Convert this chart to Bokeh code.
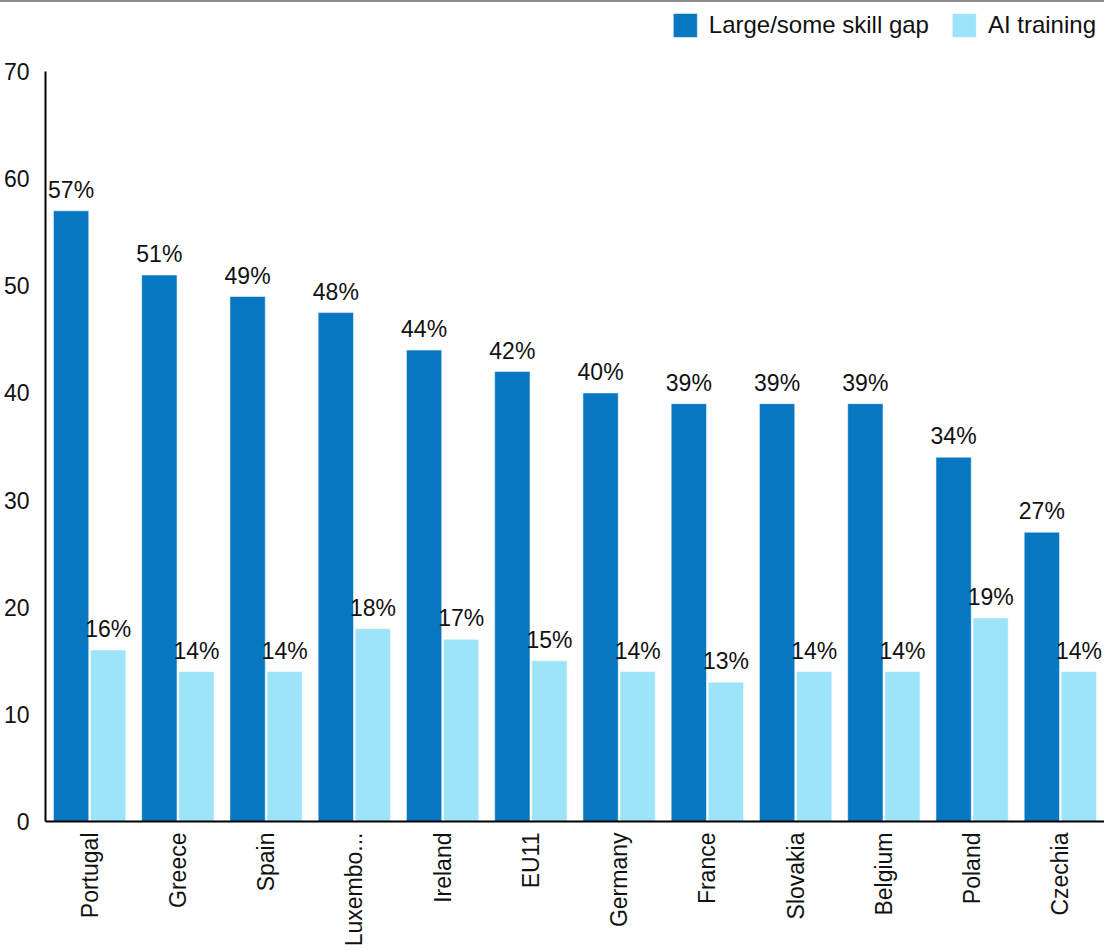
from bokeh.plotting import figure
from bokeh.models import FactorRange, Range1d, FixedTicker, ColumnDataSource, Div, Legend, LabelSet
from bokeh.transform import dodge
from bokeh.layouts import column
from bokeh.embed import file_html
from bokeh.resources import INLINE
from bokeh.core.properties import value
import math

countries = ["Portugal", "Greece", "Spain", "Luxembo...", "Ireland", "EU11",
             "Germany", "France", "Slovakia", "Belgium", "Poland", "Czechia"]
skill_gap = [57, 51, 49, 47.5, 44, 42, 40, 39, 39, 39, 34, 27]
ai_training = [16, 14, 14, 18, 17, 15, 14, 13, 14, 14, 19, 14]
skill_gap_labels = ["57%", "51%", "49%", "48%", "44%", "42%", "40%", "39%", "39%", "39%", "34%", "27%"]
ai_training_labels = ["16%", "14%", "14%", "18%", "17%", "15%", "14%", "13%", "14%", "14%", "19%", "14%"]
y_ticks = [0, 10, 20, 30, 40, 50, 60, 70]

DARK = "#0777C1"
LIGHT = "#9DE4FB"
FONT = "Liberation Sans"
TXT = "#111111"

src = ColumnDataSource(dict(c=countries, a=skill_gap, b=ai_training,
                            la=skill_gap_labels, lb=ai_training_labels))

W, H = 1104, 948
p = figure(width=W, height=H, x_range=FactorRange(*countries, range_padding=0),
           y_range=Range1d(0, 76.44), output_backend="svg", toolbar_location=None,
           min_border_left=45, min_border_right=0, min_border_top=0, min_border_bottom=129)
p.outline_line_color = None
p.xgrid.visible = False
p.ygrid.visible = False

ra = p.vbar(x=dodge("c", -0.21, range=p.x_range), top="a", width=0.4, source=src,
            fill_color=DARK, line_color="white", line_alpha=0.5, line_width=1)
rb = p.vbar(x=dodge("c", 0.21, range=p.x_range), top="b", width=0.4, source=src,
            fill_color=LIGHT, line_color="white", line_alpha=0.5, line_width=1)

lab_a = LabelSet(x=dodge("c", -0.21, range=p.x_range), y="a", text="la", source=src,
                 text_font=value(FONT), text_font_size=value("23px"), text_color=TXT,
                 text_align="center", text_baseline="bottom", y_offset=8)
lab_b = LabelSet(x=dodge("c", 0.21, range=p.x_range), y="b", text="lb", source=src,
                 text_font=value(FONT), text_font_size=value("23px"), text_color=TXT,
                 text_align="center", text_baseline="bottom", y_offset=8)
p.add_layout(lab_a)
p.add_layout(lab_b)

yax = p.yaxis[0]
yax.ticker = FixedTicker(ticks=y_ticks)
yax.bounds = (0, 70)
yax.major_tick_line_color = None
yax.minor_tick_line_color = None
yax.axis_line_width = 2
yax.axis_line_color = "black"
yax.major_label_text_font = FONT
yax.major_label_text_font_size = "23px"
yax.major_label_text_color = TXT
yax.major_label_standoff = 10

xax = p.xaxis[0]
xax.major_tick_line_color = None
xax.minor_tick_line_color = None
xax.axis_line_width = 2
xax.axis_line_color = "black"
xax.major_label_orientation = math.pi / 2
xax.major_label_text_font = FONT
xax.major_label_text_font_size = "23px"
xax.major_label_text_color = TXT
xax.major_label_standoff = 5

legend = Legend(items=[("Large/some skill gap", [ra]), ("AI training", [rb])],
                location="top_right", orientation="horizontal")
legend.border_line_color = None
legend.background_fill_alpha = 0
legend.padding = 0
legend.margin = 8
legend.spacing = 20
legend.glyph_width = 30
legend.glyph_height = 30
legend.label_standoff = 9
legend.label_text_font = FONT
legend.label_text_font_size = "24px"
legend.label_text_color = TXT
legend.label_height = 30
p.add_layout(legend)

topline = Div(text="", width=W, height=2, margin=(0, 0, 0, 0),
              styles={"background-color": "#8a8a8a"})
layout = column(topline, p, spacing=0)

open("out.html", "w").write(file_html(layout, INLINE))
